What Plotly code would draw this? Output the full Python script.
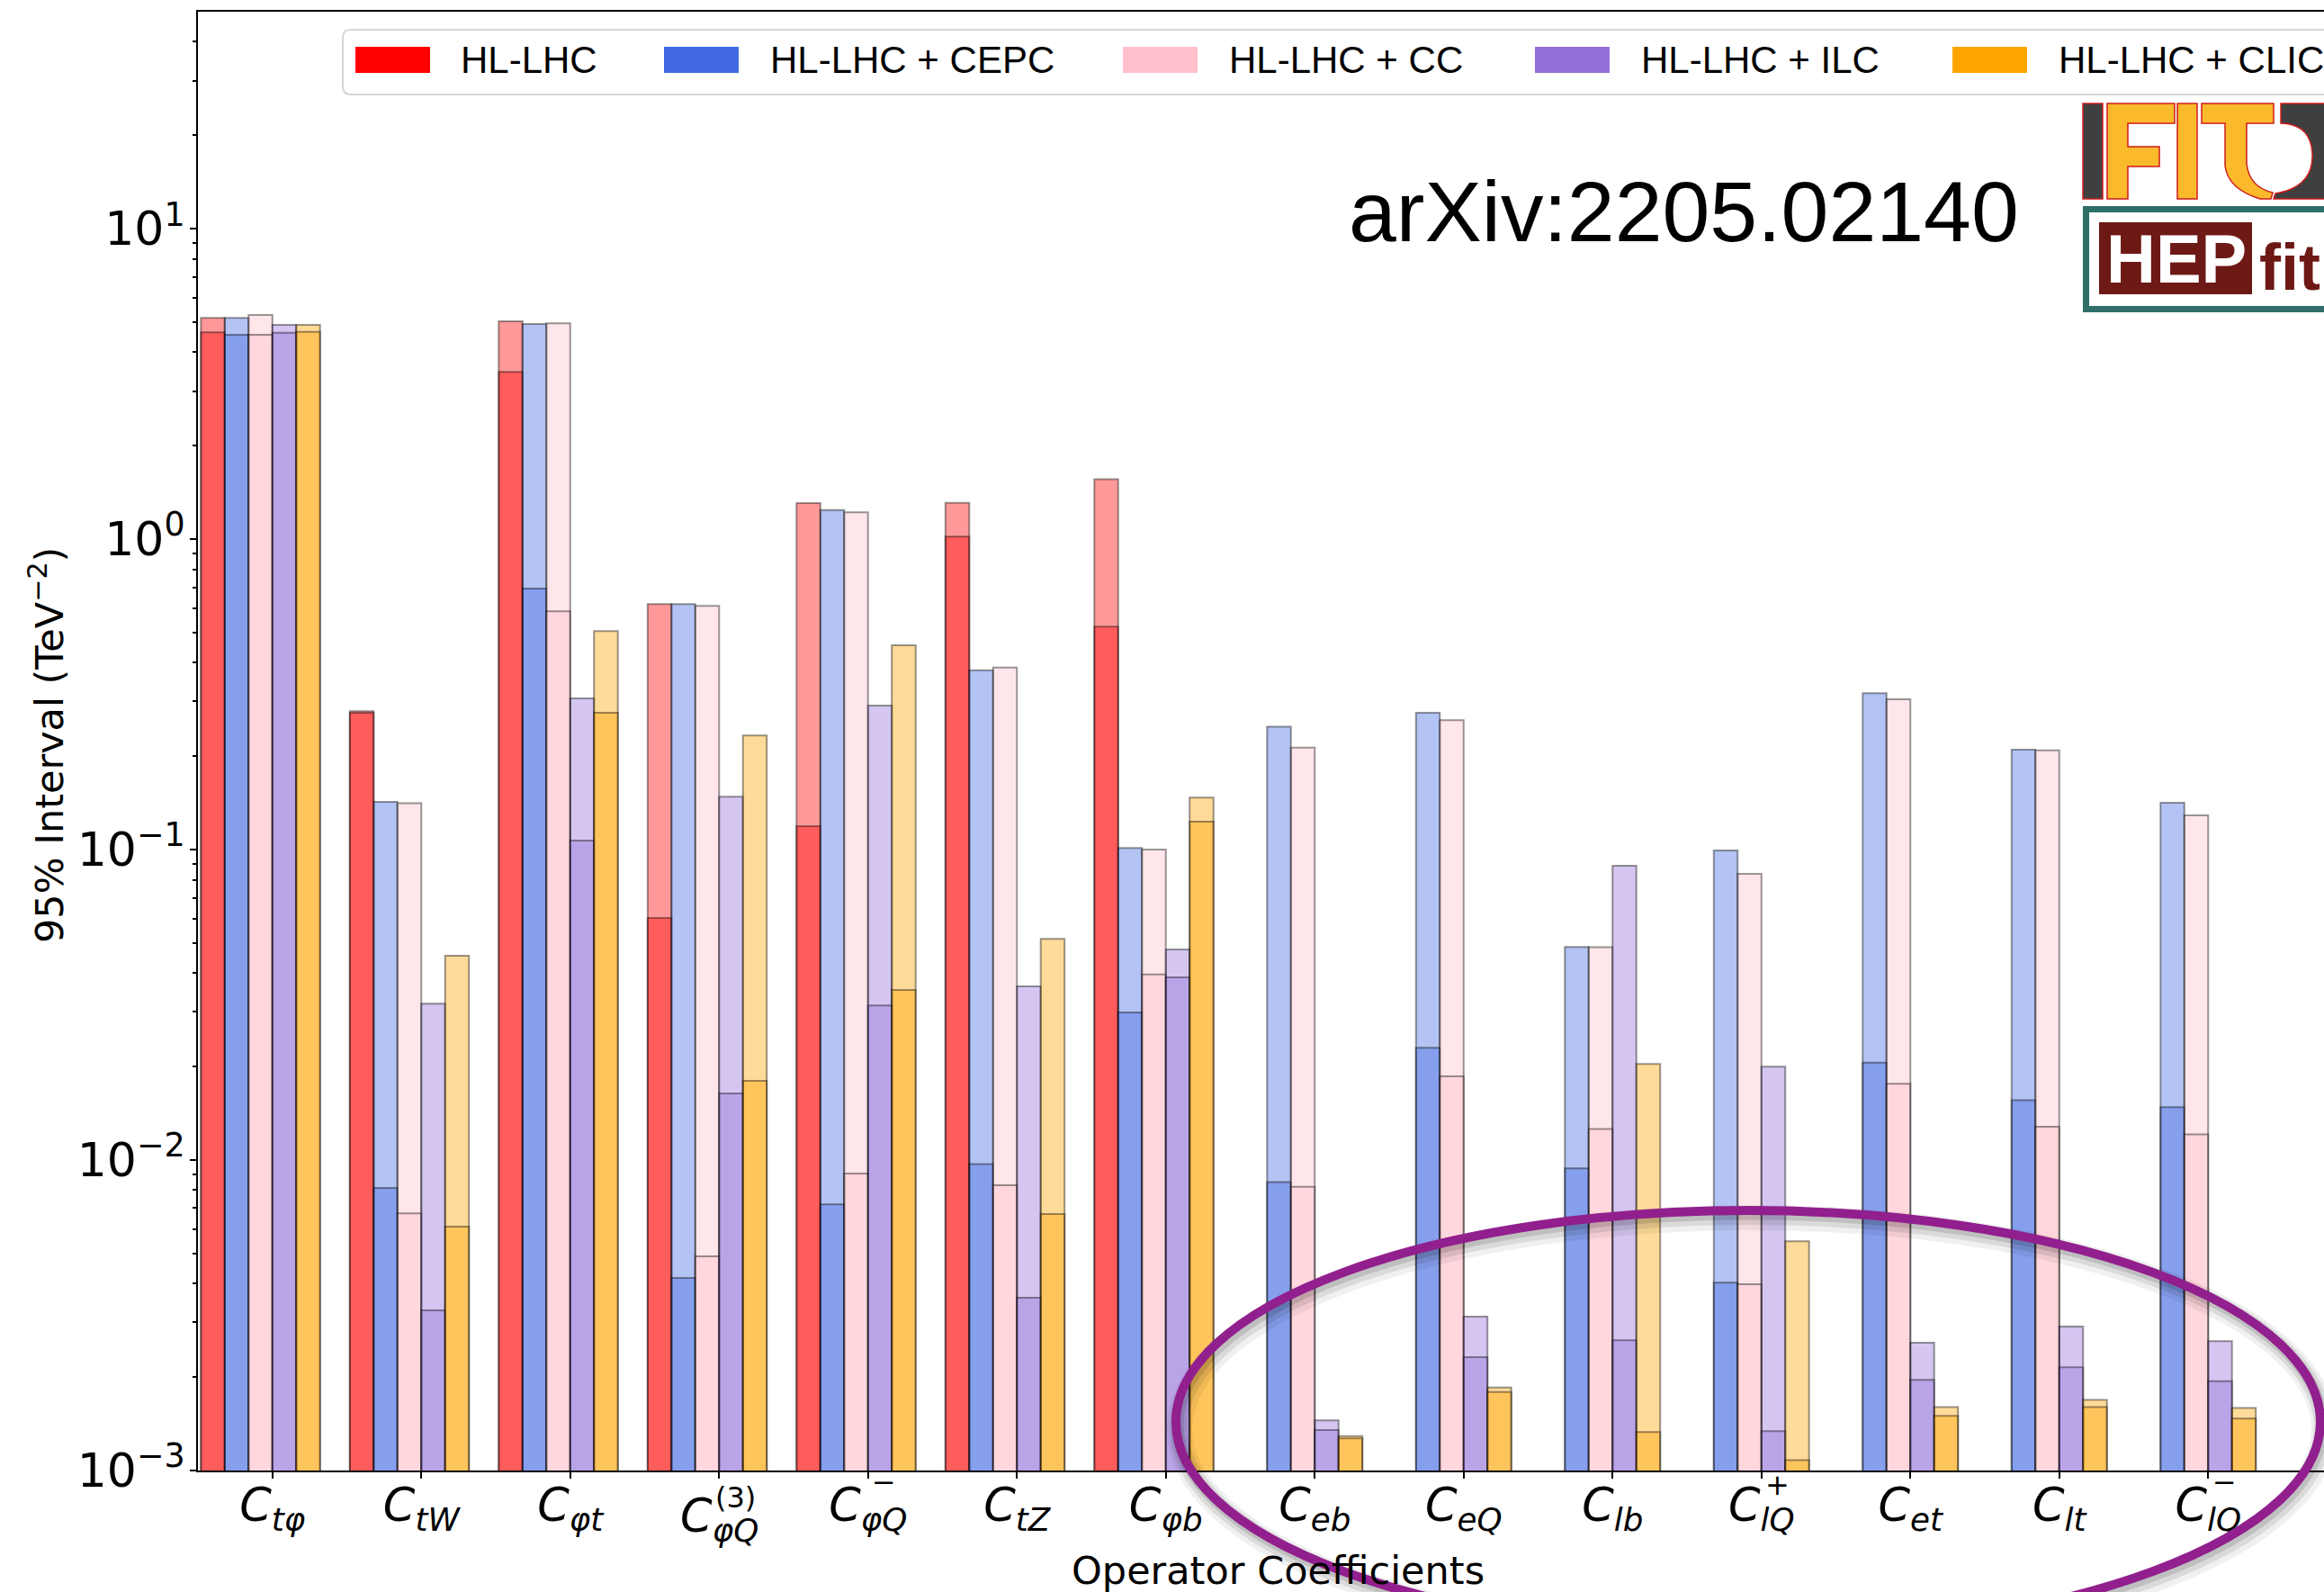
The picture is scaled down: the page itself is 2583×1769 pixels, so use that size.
import plotly.graph_objects as go

# ---- data -----------------------------------------------------------------
categories = ["Ctφ", "CtW", "Cφt", "Cφ(3)Q", "Cφ-Q", "CtZ", "Cφb",
              "Ceb", "CeQ", "Clb", "Cl+Q", "Cet", "Clt", "Cl-Q"]
tick_text = ["<i>C<sub>tφ</sub></i>", "<i>C<sub>tW</sub></i>", "<i>C<sub>φt</sub></i>",
             "", "<i>C<sub>φQ</sub></i>", "<i>C<sub>tZ</sub></i>",
             "<i>C<sub>φb</sub></i>", "<i>C<sub>eb</sub></i>", "<i>C<sub>eQ</sub></i>",
             "<i>C<sub>lb</sub></i>", "<i>C<sub>lQ</sub></i>", "<i>C<sub>et</sub></i>",
             "<i>C<sub>lt</sub></i>", "<i>C<sub>lQ</sub></i>"]
# the triplet operator label sits lower, with its superscript stacked above the subscript
triplet_label = "<i>C<sub>φQ</sub></i>"
# superscripts stacked over the subscript of some operator names
tick_superscripts = {3: "(3)", 4: "−", 10: "+", 13: "−"}

series_names = ["HL-LHC", "HL-LHC + CEPC", "HL-LHC + CC", "HL-LHC + ILC", "HL-LHC + CLIC"]
series_rgb = [(255, 0, 0), (65, 105, 225), (255, 192, 203), (147, 112, 219), (255, 165, 0)]

# 95% intervals (TeV^-2): global (marginalised) fit and individual fit
hllhc_global = [5.16, 0.279, 5.03, 0.618, 1.306, 1.31, 1.56,
                None, None, None, None, None, None, None]
hllhc_indiv = [4.64, 0.276, 3.46, 0.0602, 0.119, 1.02, 0.523,
               None, None, None, None, None, None, None]
cepc_global = [5.16, 0.1425, 4.93, 0.618, 1.24, 0.378, 0.1013,
               0.249, 0.276, 0.0486, 0.0993, 0.319, 0.210, 0.1415]
cepc_indiv = [4.55, 8.13e-3, 0.693, 4.17e-3, 7.2e-3, 9.7e-3, 0.0299,
              8.5e-3, 0.023, 9.4e-3, 4.03e-3, 0.0206, 0.0156, 0.0148]
cc_global = [5.27, 0.141, 4.96, 0.61, 1.22, 0.386, 0.100,
             0.213, 0.261, 0.0485, 0.0835, 0.305, 0.209, 0.129]
cc_indiv = [4.55, 6.74e-3, 0.586, 4.9e-3, 9.05e-3, 8.3e-3, 0.0396,
            8.2e-3, 0.0186, 0.0126, 3.98e-3, 0.0176, 0.0128, 0.0121]
ilc_global = [4.90, 0.0319, 0.307, 0.148, 0.291, 0.0363, 0.0477,
              1.45e-3, 3.13e-3, 0.0887, 0.020, 2.58e-3, 2.91e-3, 2.61e-3]
ilc_indiv = [4.62, 3.28e-3, 0.107, 0.0164, 0.0315, 3.6e-3, 0.0388,
             1.35e-3, 2.32e-3, 2.63e-3, 1.34e-3, 1.96e-3, 2.15e-3, 1.94e-3]
clic_global = [4.90, 0.0455, 0.506, 0.233, 0.455, 0.0516, 0.147,
               1.29e-3, 1.85e-3, 0.0204, 5.48e-3, 1.6e-3, 1.69e-3, 1.59e-3]
clic_indiv = [4.65, 6.1e-3, 0.276, 0.018, 0.0353, 6.7e-3, 0.123,
              1.27e-3, 1.79e-3, 1.33e-3, 1.08e-3, 1.5e-3, 1.6e-3, 1.47e-3]

global_fits = [hllhc_global, cepc_global, cc_global, ilc_global, clic_global]
indiv_fits = [hllhc_indiv, cepc_indiv, cc_indiv, ilc_indiv, clic_indiv]

y_tick_vals = [1e-3, 1e-2, 1e-1, 1e0, 1e1]
y_tick_text = ["10<sup>−3</sup>", "10<sup>−2</sup>", "10<sup>−1</sup>",
               "10<sup>0</sup>", "10<sup>1</sup>"]

# ---- figure geometry (pixels) ----------------------------------------------
FIG_W, FIG_H = 2583, 1769
L, R, T, B = 220, 2583, 13, 1634
PW, PH = R - L, B - T


def px(x):
    return (x - L) / PW


def py(y):
    return (B - y) / PH


def rgba(c, a):
    return f"rgba({c[0]},{c[1]},{c[2]},{a})"


BAR_W = 0.16
bar_offsets = [-0.48, -0.32, -0.16, 0.0, 0.16]
x_idx = list(range(len(categories)))

fig = go.Figure()
for k, name in enumerate(series_names):
    for vals in (global_fits[k], indiv_fits[k]):
        fig.add_trace(go.Bar(
            x=x_idx, y=vals, name=name, width=BAR_W, offset=bar_offsets[k],
            marker=dict(color=rgba(series_rgb[k], 0.4),
                        line=dict(color="rgba(0,0,0,0.4)", width=2)),
            showlegend=False,
        ))

minor_vals = [m * 10.0 ** e for e in range(-3, 2) for m in range(2, 10) if m * 10.0 ** e < 50]

fig.update_layout(
    width=FIG_W, height=FIG_H,
    margin=dict(l=L, r=FIG_W - R, t=T, b=FIG_H - B, pad=0),
    plot_bgcolor="white", paper_bgcolor="white",
    barmode="overlay", showlegend=False,
    font=dict(family="DejaVu Sans", color="black"),
)
fig.update_xaxes(
    range=[-0.5, -0.5 + PW / 165.5], tickmode="array", tickvals=x_idx, ticktext=tick_text,
    ticks="outside", ticklen=7, tickwidth=2, tickcolor="black", ticklabelstandoff=-14,
    showline=True, linecolor="black", linewidth=2, mirror=True,
    showgrid=False, zeroline=False,
    tickfont=dict(family="DejaVu Sans", size=51, color="black"),
)
fig.update_yaxes(
    type="log", range=[-3, 1.699], tickmode="array",
    tickvals=y_tick_vals, ticktext=y_tick_text,
    ticks="outside", ticklen=7, tickwidth=2, tickcolor="black", ticklabelstandoff=-5,
    showline=True, linecolor="black", linewidth=2, mirror=False,
    showgrid=False, zeroline=False,
    minor=dict(tickmode="array", tickvals=minor_vals, ticks="outside",
               ticklen=4, tickwidth=1.5, tickcolor="black", showgrid=False),
    tickfont=dict(family="DejaVu Sans", size=52, color="black"),
)

annotations = []
shapes = []

# lowered label for the triplet operator
annotations.append(dict(
    x=3, y=py(1653), xref="x", yref="paper", text=triplet_label, showarrow=False,
    xanchor="center", yanchor="top", font=dict(family="DejaVu Sans", size=51)))

# stacked superscripts on the operator labels
sup_y = {3: 1664, 4: 1647, 10: 1650, 13: 1647}
for i, s in tick_superscripts.items():
    annotations.append(dict(
        x=i + 0.11, y=py(sup_y[i]), xref="x", yref="paper", text=s, showarrow=False,
        xanchor="center", yanchor="middle", font=dict(family="DejaVu Sans", size=32)))

# axis titles
annotations.append(dict(
    x=px(1420), y=py(1745), xref="paper", yref="paper", text="Operator Coefficients",
    showarrow=False, xanchor="center", yanchor="middle",
    font=dict(family="DejaVu Sans", size=43)))
annotations.append(dict(
    x=px(52), y=py(828), xref="paper", yref="paper",
    text="95% Interval (TeV<sup>−2</sup>)", textangle=-90,
    showarrow=False, xanchor="center", yanchor="middle",
    font=dict(family="DejaVu Sans", size=43)))

# legend frame with rounded corners
lx0, lx1, ly0, ly1, rr = 381, 2620, 33, 105, 9
shapes.append(dict(
    type="path", xref="paper", yref="paper",
    path=(f"M {px(lx0 + rr)},{py(ly0)} L {px(lx1)},{py(ly0)} L {px(lx1)},{py(ly1)} "
          f"L {px(lx0 + rr)},{py(ly1)} Q {px(lx0)},{py(ly1)} {px(lx0)},{py(ly1 - rr)} "
          f"L {px(lx0)},{py(ly0 + rr)} Q {px(lx0)},{py(ly0)} {px(lx0 + rr)},{py(ly0)} Z"),
    fillcolor="rgba(255,255,255,0.8)", line=dict(color="#d6d6d6", width=2)))
legend_patch_x = [395, 738, 1248, 1706, 2170]
legend_text_x = [510, 854, 1364, 1822, 2286]
for k, name in enumerate(series_names):
    shapes.append(dict(
        type="rect", xref="paper", yref="paper",
        x0=px(legend_patch_x[k]), x1=px(legend_patch_x[k] + 83), y0=py(81), y1=py(52),
        fillcolor=rgba(series_rgb[k], 1), line=dict(width=0)))
    annotations.append(dict(
        x=px(legend_text_x[k]), y=py(67), xref="paper", yref="paper", text=name,
        showarrow=False, xanchor="left", yanchor="middle",
        font=dict(family="Liberation Sans", size=42)))

# reference tag
annotations.append(dict(
    x=px(1497), y=py(235), xref="paper", yref="paper", text="arXiv:2205.02140",
    showarrow=False, xanchor="left", yanchor="middle",
    font=dict(family="Liberation Sans", size=95)))

# IFIC logo
red_edge = dict(color="#cf1b1b", width=1.5)
yellow = "#fbba2c"
grey = "#3f3f3f"
shapes.append(dict(type="rect", xref="paper", yref="paper",
                   x0=px(2315), x1=px(2337), y0=py(221), y1=py(115),
                   fillcolor=grey, line=red_edge))
f_pts = [(2342, 115), (2417, 115), (2417, 137), (2365, 137), (2365, 163), (2400, 163),
         (2400, 185), (2365, 185), (2365, 221), (2342, 221)]
shapes.append(dict(type="path", xref="paper", yref="paper",
                   path="M " + " L ".join(f"{px(a)},{py(b)}" for a, b in f_pts) + " Z",
                   fillcolor=yellow, line=red_edge))
shapes.append(dict(type="rect", xref="paper", yref="paper",
                   x0=px(2420), x1=px(2442), y0=py(221), y1=py(115),
                   fillcolor=yellow, line=red_edge))
shapes.append(dict(type="path", xref="paper", yref="paper",
                   path=(f"M {px(2447)},{py(115)} L {px(2527)},{py(115)} L {px(2527)},{py(137)} "
                         f"L {px(2497)},{py(137)} L {px(2497)},{py(182)} "
                         f"Q {px(2500)},{py(208)} {px(2526)},{py(214)} L {px(2524)},{py(221)} "
                         f"L {px(2512)},{py(221)} Q {px(2476)},{py(210)} {px(2473)},{py(184)} "
                         f"L {px(2473)},{py(137)} L {px(2447)},{py(137)} Z"),
                   fillcolor=yellow, line=red_edge))
shapes.append(dict(type="path", xref="paper", yref="paper",
                   path=(f"M {px(2535)},{py(115)} L {px(2590)},{py(115)} L {px(2590)},{py(221)} "
                         f"L {px(2527)},{py(221)} L {px(2529)},{py(215)} "
                         f"Q {px(2572)},{py(208)} {px(2570)},{py(170)} "
                         f"Q {px(2568)},{py(138)} {px(2535)},{py(137)} Z"),
                   fillcolor=grey, line=red_edge))

# HEPfit logo
shapes.append(dict(type="rect", xref="paper", yref="paper",
                   x0=px(2318.5), x1=px(2600), y0=py(343.5), y1=py(232.5),
                   fillcolor="white", line=dict(color="#2f6d69", width=7)))
shapes.append(dict(type="rect", xref="paper", yref="paper",
                   x0=px(2333), x1=px(2503), y0=py(327), y1=py(247),
                   fillcolor="#6d1915", line=dict(width=0)))
annotations.append(dict(
    x=px(2419), y=py(287), xref="paper", yref="paper", text="<b>HEP</b>",
    showarrow=False, xanchor="center", yanchor="middle",
    font=dict(family="Liberation Sans", size=76, color="white")))
annotations.append(dict(
    x=px(2545), y=py(297), xref="paper", yref="paper", text="<b>fit</b>",
    showarrow=False, xanchor="center", yanchor="middle",
    font=dict(family="Liberation Sans", size=72, color="#6d1915")))

# highlighted region: soft shadow plus purple ellipse
ex0, ex1, ey0, ey1 = 1307, 2579, 1345, 1815
for dx, dy, w, a in [(4, 8, 28, 0.06), (3, 6, 20, 0.09), (2, 4, 13, 0.12)]:
    shapes.append(dict(type="circle", xref="paper", yref="paper",
                       x0=px(ex0 + dx), x1=px(ex1 + dx), y0=py(ey1 + dy), y1=py(ey0 + dy),
                       line=dict(color=f"rgba(0,0,0,{a})", width=w)))
shapes.append(dict(type="circle", xref="paper", yref="paper",
                   x0=px(ex0), x1=px(ex1), y0=py(ey1), y1=py(ey0),
                   line=dict(color="#921f8e", width=10)))

fig.update_layout(annotations=annotations, shapes=shapes)
fig.write_html("out.html")
